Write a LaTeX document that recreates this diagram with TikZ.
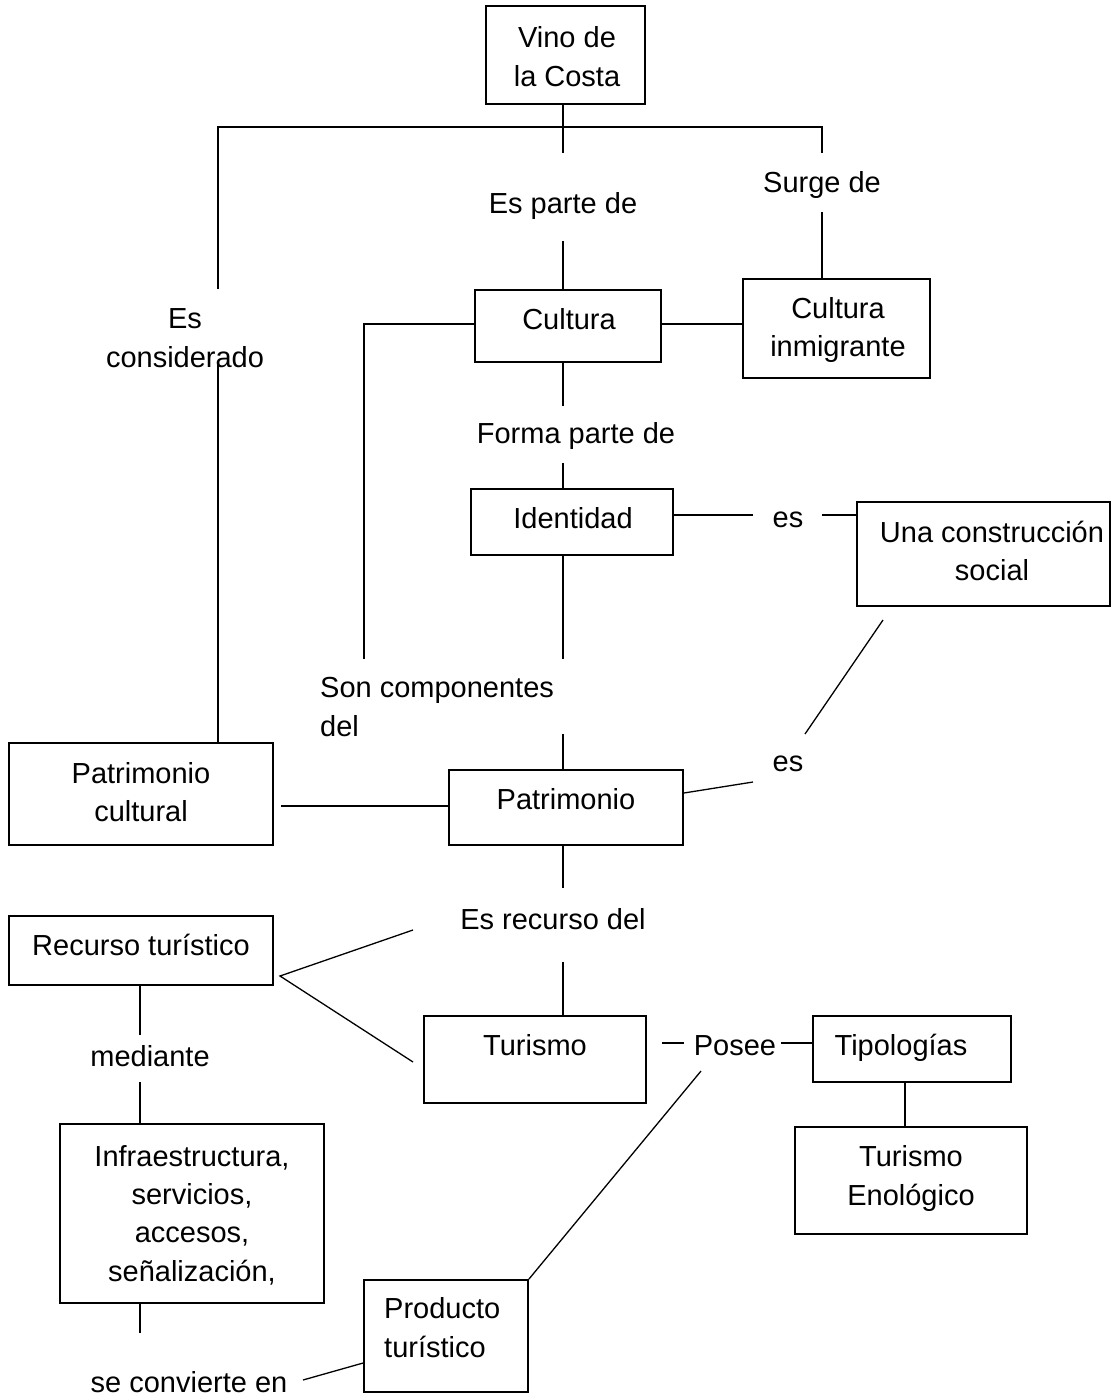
\documentclass[tikz,border=0pt]{standalone}
\usepackage{fontspec}
\setmainfont{Liberation Sans}
\begin{document}
\begin{tikzpicture}[x=1pt,y=-1pt,
  box/.style={draw=black,line width=1.8pt,rectangle,inner sep=0pt},
  conn/.style={draw=black,line width=1.3pt},
  txt/.style={inner sep=0pt,anchor=base,font=\fontsize{29}{38}\selectfont},
  txtl/.style={inner sep=0pt,anchor=base west,font=\fontsize{29}{38}\selectfont}]
\useasboundingbox[fill=white] (0,0) rectangle (1111,1397);

% boxes
\node[box,minimum width=159pt,minimum height=98pt] (vino) at (565.5,55) {};
\node[box,minimum width=186pt,minimum height=72pt] (cultura) at (568,326) {};
\node[box,minimum width=187pt,minimum height=99pt] (inmig) at (836.5,328.5) {};
\node[box,minimum width=202pt,minimum height=66pt] (ident) at (572,522) {};
\node[box,minimum width=253pt,minimum height=104pt] (social) at (983.5,554) {};
\node[box,minimum width=234pt,minimum height=75pt] (patr) at (566,807.5) {};
\node[box,minimum width=264pt,minimum height=102pt] (patrc) at (141,794) {};
\node[box,minimum width=264pt,minimum height=69pt] (recurso) at (141,950.5) {};
\node[box,minimum width=222pt,minimum height=87pt] (turismo) at (535,1059.5) {};
\node[box,minimum width=198pt,minimum height=66pt] (tipo) at (912,1049) {};
\node[box,minimum width=232pt,minimum height=107pt] (enol) at (911,1180.5) {};
\node[box,minimum width=264pt,minimum height=179pt] (infra) at (192,1213.5) {};
\node[box,minimum width=164pt,minimum height=112pt] (prod) at (446,1336) {};

% texts
\node[txt] (vino1) at (567,48) {Vino de};
\node[txt] (vino2) at (567,86) {la Costa};
\node[txt] (lsurge) at (822,192) {Surge de};
\node[txt] (lparte) at (563,213) {Es parte de};
\node[txt] (lcons1) at (185,328) {Es};
\node[txt] (lcons2) at (185,367) {considerado};
\node[txt] (cult) at (569,329) {Cultura};
\node[txt] (inm1) at (838,318) {Cultura};
\node[txt] (inm2) at (838,356) {inmigrante};
\node[txt] (lforma) at (576,443) {Forma parte de};
\node[txt] (iden) at (573,528) {Identidad};
\node[txt] (les1) at (788,527) {es};
\node[txt] (soc1) at (992,542) {Una construcción};
\node[txt] (soc2) at (992,580) {social};
\node[txtl] (lson1) at (320,697) {Son componentes};
\node[txtl] (lson2) at (320,736) {del};
\node[txt] (les2) at (788,771) {es};
\node[txt] (patrt) at (566,809) {Patrimonio};
\node[txt] (pc1) at (141,783) {Patrimonio};
\node[txt] (pc2) at (141,821) {cultural};
\node[txt] (lrec) at (553,929) {Es recurso del};
\node[txt] (rect) at (141,955) {Recurso turístico};
\node[txt] (turt) at (535,1055) {Turismo};
\node[txt] (lposee) at (735,1055) {Posee};
\node[txt] (tipt) at (901,1055) {Tipologías};
\node[txt] (lmed) at (150,1066) {mediante};
\node[txt] (en1t) at (911,1166) {Turismo};
\node[txt] (en2t) at (911,1205) {Enológico};
\node[txt] (inf1) at (192,1166) {Infraestructura,};
\node[txt] (inf2) at (192,1204) {servicios,};
\node[txt] (inf3) at (192,1242) {accesos,};
\node[txt] (inf4) at (192,1281) {señalización,};
\node[txtl] (pr1) at (384,1318) {Producto};
\node[txtl] (pr2) at (384,1357) {turístico};
\node[txt] (lconv) at (189,1392) {se convierte en};

% free-end coordinates
\coordinate (t1) at (563,153);
\coordinate (h1) at (218,127);
\coordinate (h2) at (822,127);
\coordinate (h1d) at (218,289);
\coordinate (h2d) at (822,153);
\coordinate (h1u) at (218,363);
\coordinate (t2) at (563,241);
\coordinate (s1) at (822,212);
\coordinate (k1) at (364,659);
\coordinate (f1) at (563,406);
\coordinate (f2) at (563,463);
\coordinate (e1) at (753,515);
\coordinate (e2) at (822,515);
\coordinate (sc1) at (563,659);
\coordinate (sc2) at (563,734);
\coordinate (d1) at (883,620);
\coordinate (d2) at (805,734);
\coordinate (e3) at (753,782);
\coordinate (pc) at (281,806);
\coordinate (r1) at (563,888);
\coordinate (r2) at (563,962);
\coordinate (v0) at (280,976);
\coordinate (v1) at (413,930);
\coordinate (v2) at (413,1062);
\coordinate (m1) at (140,1035);
\coordinate (m2) at (140,1082);
\coordinate (m3) at (140,1333);
\coordinate (g1) at (303,1380);
\coordinate (p1) at (701,1071);
\coordinate (q1a) at (662,1043);
\coordinate (q1b) at (684,1043);
\coordinate (q2) at (781,1043);
\coordinate (en1) at (905,1100);

% connectors
\draw[conn] (vino.south -| t1) -- (t1);
\draw[conn] (h1d) -- (h1) -- (h2) -- (h2d);
\draw[conn] (h1u) -- (h1u |- patrc.north);
\draw[conn] (t2) -- (t2 |- cultura.north);
\draw[conn] (s1) -- (s1 |- inmig.north);
\draw[conn] (cultura.east |- 0,324) -- (inmig.west |- 0,324);
\draw[conn] (cultura.west |- 0,324) -| (k1);
\draw[conn] (cultura.south -| t1) -- (f1);
\draw[conn] (f2) -- (f2 |- ident.north);
\draw[conn] (ident.east |- e1) -- (e1);
\draw[conn] (e2) -- (e2 -| social.west);
\draw[conn] (ident.south -| t1) -- (sc1);
\draw[conn] (sc2) -- (sc2 |- patr.north);
\draw[conn] (d1) -- (d2);
\draw[conn] ([yshift=14.5pt]patr.east) -- (e3);
\draw[conn] (pc) -- (pc -| patr.west);
\draw[conn] (patr.south -| t1) -- (r1);
\draw[conn] (r2) -- (r2 |- turismo.north);
\draw[conn] (v1) -- (v0) -- (v2);
\draw[conn] (recurso.south -| m1) -- (m1);
\draw[conn] (m2) -- (m2 |- infra.north);
\draw[conn] (infra.south -| m3) -- (m3);
\draw[conn] (g1) -- ([yshift=-27pt]prod.west);
\draw[conn] (prod.north east) -- (p1);
\draw[conn] (q1a) -- (q1b);
\draw[conn] (q2) -- (q2 -| tipo.west);
\draw[conn] (tipo.south -| en1) -- (en1 |- enol.north);
\end{tikzpicture}
\end{document}
